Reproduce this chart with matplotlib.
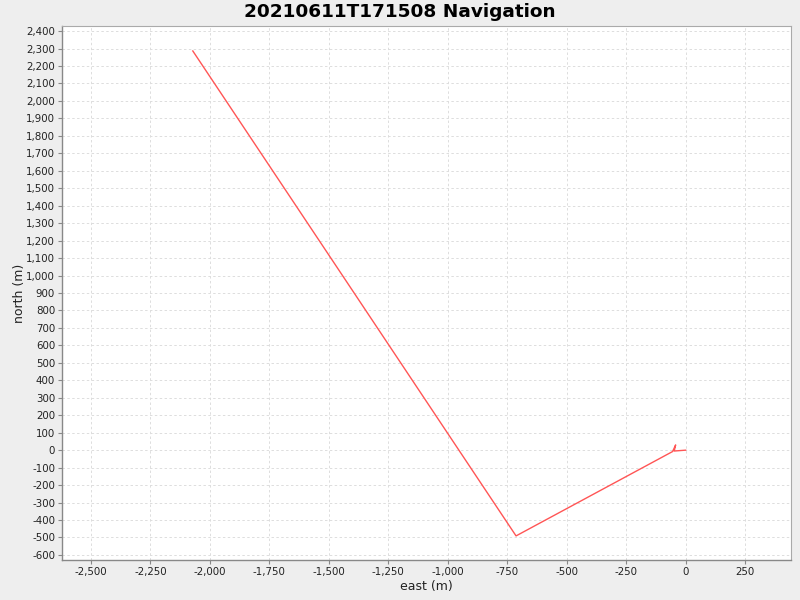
import matplotlib
matplotlib.use("Agg")
import matplotlib.pyplot as plt
from matplotlib.ticker import MultipleLocator, FuncFormatter

# Navigation track (east, north) in metres
east = [0, -48, -42, -55, -713, -2072]
north = [0, -5, 30, -8, -491, 2286]

title = "20210611T171508 Navigation"
x_label = "east (m)"
y_label = "north (m)"

plt.rcParams['font.family'] = ['DejaVu Sans']

fig = plt.figure(figsize=(8, 6), dpi=100, facecolor="#EEEEEE")
ax = fig.add_axes([62 / 800, 1 - 560 / 600, (791 - 62) / 800, (560 - 26) / 600])
ax.set_facecolor("white")

ax.plot(east, north, color="#FF5555", linewidth=1.0)

ax.set_xlim(-2622, 443)
ax.set_ylim(-629, 2429)
ax.xaxis.set_major_locator(MultipleLocator(250))
ax.yaxis.set_major_locator(MultipleLocator(100))
comma = FuncFormatter(lambda v, pos: f"{int(round(v)):,}")
ax.xaxis.set_major_formatter(comma)
ax.yaxis.set_major_formatter(comma)

ax.grid(True, color="#DDDDDD", linestyle=(0, (2.5, 2.5)), linewidth=0.7)
ax.set_axisbelow(True)

for side in ["top", "right"]:
    ax.spines[side].set_color("#AAAAAA")
    ax.spines[side].set_linewidth(0.8)
for side in ["left", "bottom"]:
    ax.spines[side].set_color("#888888")
    ax.spines[side].set_linewidth(1.0)

ax.tick_params(axis="both", direction="out", length=3, width=0.8,
               color="#888888", labelsize=7.4, labelcolor="#222222", pad=2)

ax.set_xlabel(x_label, fontsize=9, color="#222222", labelpad=2)
ax.set_ylabel(y_label, fontsize=9, color="#222222", labelpad=0)

fig.text(0.5, 1 - 12 / 600, title, ha="center", va="center",
         fontsize=13.3, fontweight="bold", color="black")

fig.savefig("out.png", dpi=100, facecolor=fig.get_facecolor())
